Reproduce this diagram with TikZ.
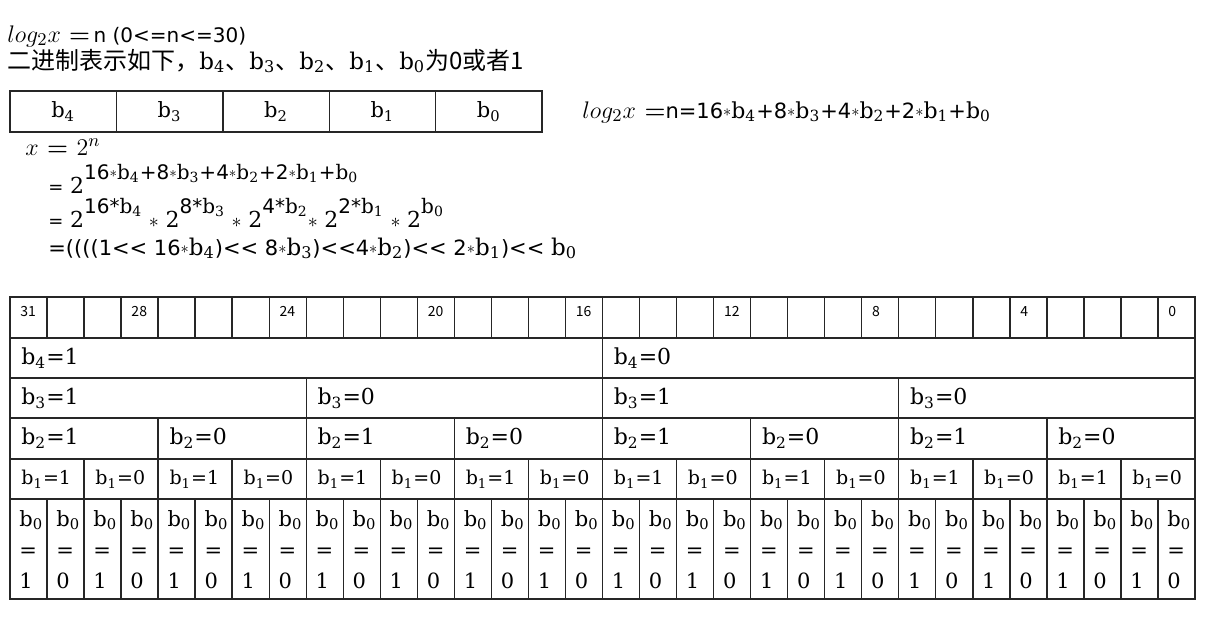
\documentclass[tikz,border=0pt]{standalone}
\usepackage{fontspec}
\usepackage{amsmath}
\usepackage{graphicx}
\usepackage{tikz}
\usetikzlibrary{positioning, calc}
\newfontfamily\cjk{Noto Sans CJK SC}
\newfontfamily\latsans{DejaVu Sans}
\newfontfamily\dserif{DejaVu Serif}
\newcommand{\mulstar}{\raisebox{0.15ex}{\scalebox{0.75}{$\ast$}}}
\newcommand{\pw}[1]{\raisebox{7pt}{#1}}
\newcommand{\bsub}[1]{{\dserif b\textsubscript{#1}}}
\newcommand{\boldeq}{{\boldmath$=$}}
\newcommand{\sn}{\latsans\fontsize{10}{12}\selectfont}

\begin{document}
\begin{tikzpicture}[x=0.5pt, y=-0.5pt]
    \tikzstyle{cell} = [rectangle, draw=black!85, line width=0.7pt, inner sep=0pt, outer sep=0pt]
    \tikzstyle{celltext} = [inner sep=0pt, anchor=west]
    \tikzstyle{bitnum} = [inner sep=0pt, anchor=north west, font=\cjk\fontsize{7}{8}\selectfont]
    \tikzstyle{formula} = [inner sep=0pt, anchor=base west]

    \useasboundingbox (0,0) rectangle (1219,618);

    \node[formula, font=\fontsize{12.5}{15}\selectfont] (range) at (7,42)
        {$log_2x$\ \boldeq{\sn\,n (0<=n<=30)}};
    \node[formula, font=\fontsize{12}{14}\selectfont] (intro) at (7,69)
        {{\cjk 二进制表示如下，}{\fontsize{11.5}{13}\selectfont\bsub{4}}{\cjk 、}{\fontsize{11.5}{13}\selectfont\bsub{3}}{\cjk 、}{\fontsize{11.5}{13}\selectfont\bsub{2}}{\cjk 、}{\fontsize{11.5}{13}\selectfont\bsub{1}}{\cjk 、}{\fontsize{11.5}{13}\selectfont\bsub{0}}{\cjk 为0或者1}};

    \foreach \i/\b in {0/4,1/3,2/2,3/1,4/0} {
        \pgfmathsetmacro{\xl}{10+\i*106.4}
        \node[cell, minimum width=53.2pt, minimum height=20.5pt, anchor=north west, font=\fontsize{10.5}{12}\selectfont] (top\b) at (\xl,91) {\bsub{\b}};
    }

    \node[formula, font=\fontsize{13}{15}\selectfont] (sum) at (582,118)
        {$log_2x$\ \boldeq{\sn\fontsize{10.5}{12}\selectfont n=16\mulstar}{\fontsize{11}{12}\selectfont\bsub{4}}{\sn\fontsize{10.5}{12}\selectfont +8\mulstar}{\fontsize{11}{12}\selectfont\bsub{3}}{\sn\fontsize{10.5}{12}\selectfont +4\mulstar}{\fontsize{11}{12}\selectfont\bsub{2}}{\sn\fontsize{10.5}{12}\selectfont +2\mulstar}{\fontsize{11}{12}\selectfont\bsub{1}}{\sn\fontsize{10.5}{12}\selectfont +}{\fontsize{11}{12}\selectfont\bsub{0}}};

    \node[formula, font=\fontsize{13}{15}\selectfont] (xdef) at (25,155) {$x$ \boldeq\ $2^n$};
    \node[formula, font=\fontsize{10}{12}\selectfont] (step1) at (48,193)
        {{\latsans\fontsize{9}{11}\selectfont =} {\dserif\fontsize{11}{13}\selectfont 2}\pw{{\sn 16\mulstar}\bsub{4}{\sn +8\mulstar}\bsub{3}{\sn +4\mulstar}\bsub{2}{\sn +2\mulstar}\bsub{1}{\sn +}\bsub{0}}};
    \node[formula, font=\fontsize{10}{12}\selectfont] (step2) at (48,227)
        {{\latsans\fontsize{9}{11}\selectfont =} {\dserif\fontsize{11}{13}\selectfont 2}\pw{{\sn 16*}\bsub{4}} $\ast$ {\dserif\fontsize{11}{13}\selectfont 2}\pw{{\sn 8*}\bsub{3}} $\ast$ {\dserif\fontsize{11}{13}\selectfont 2}\pw{{\sn 4*}\bsub{2}}$\ast$ {\dserif\fontsize{11}{13}\selectfont 2}\pw{{\sn 2*}\bsub{1}} $\ast$ {\dserif\fontsize{11}{13}\selectfont 2}\pw{\bsub{0}}};
    \node[formula, font=\fontsize{11.5}{13}\selectfont] (step3) at (48,255)
        {{\sn\fontsize{10.5}{12}\selectfont =((((1<< 16\mulstar}\bsub{4}{\sn\fontsize{10.5}{12}\selectfont )<< 8\mulstar}\bsub{3}{\sn\fontsize{10.5}{12}\selectfont )<<4\mulstar}\bsub{2}{\sn\fontsize{10.5}{12}\selectfont )<< 2\mulstar}\bsub{1}{\sn\fontsize{10.5}{12}\selectfont )<< }\bsub{0}};

    \foreach \c in {0,...,31} {
        \pgfmathsetmacro{\xl}{10+\c*37.03125}
        \node[cell, minimum width=18.515625pt, minimum height=20.5pt, anchor=north west] (bit\c) at (\xl,297) {};
    }
    \foreach \c/\num in {0/31,3/28,7/24,11/20,15/16,19/12,23/8,27/4,31/0}
        \node[bitnum] (num\num) at ([shift={(5pt,-4.5pt)}]bit\c.north west) {\num};

    \foreach \bit/\ncol/\ytop/\rowh/\fsz in {4/16/338/40/11, 3/8/378/40/11, 2/4/418/41/11, 1/2/459/40/9.5} {
        \pgfmathtruncatemacro{\lastidx}{32/\ncol-1}
        \pgfmathsetmacro{\cellw}{\ncol*18.515625}
        \pgfmathsetmacro{\cellh}{\rowh/2}
        \foreach \i in {0,...,\lastidx} {
            \pgfmathsetmacro{\xl}{10+\i*\ncol*37.03125}
            \pgfmathtruncatemacro{\val}{1-mod(\i,2)}
            \node[cell, minimum width=\cellw pt, minimum height=\cellh pt, anchor=north west] (row\bit-\i) at (\xl,\ytop) {};
            \node[celltext, font=\dserif\fontsize{\fsz}{\fsz}\selectfont] (txt\bit-\i) at ([xshift=5.5pt]row\bit-\i.west) {\bsub{\bit}=\val};
        }
    }

    \foreach \i in {0,...,31} {
        \pgfmathsetmacro{\xl}{10+\i*37.03125}
        \pgfmathtruncatemacro{\val}{1-mod(\i,2)}
        \node[cell, minimum width=18.515625pt, minimum height=50pt, anchor=north west] (row0-\i) at (\xl,499) {};
        \node[inner sep=0pt, anchor=north west, align=left, font=\dserif\fontsize{10.5}{15.5}\selectfont] (txt0-\i) at ([shift={(4.5pt,-5.5pt)}]row0-\i.north west) {\bsub{0}\\=\\\val};
    }
\end{tikzpicture}
\end{document}
